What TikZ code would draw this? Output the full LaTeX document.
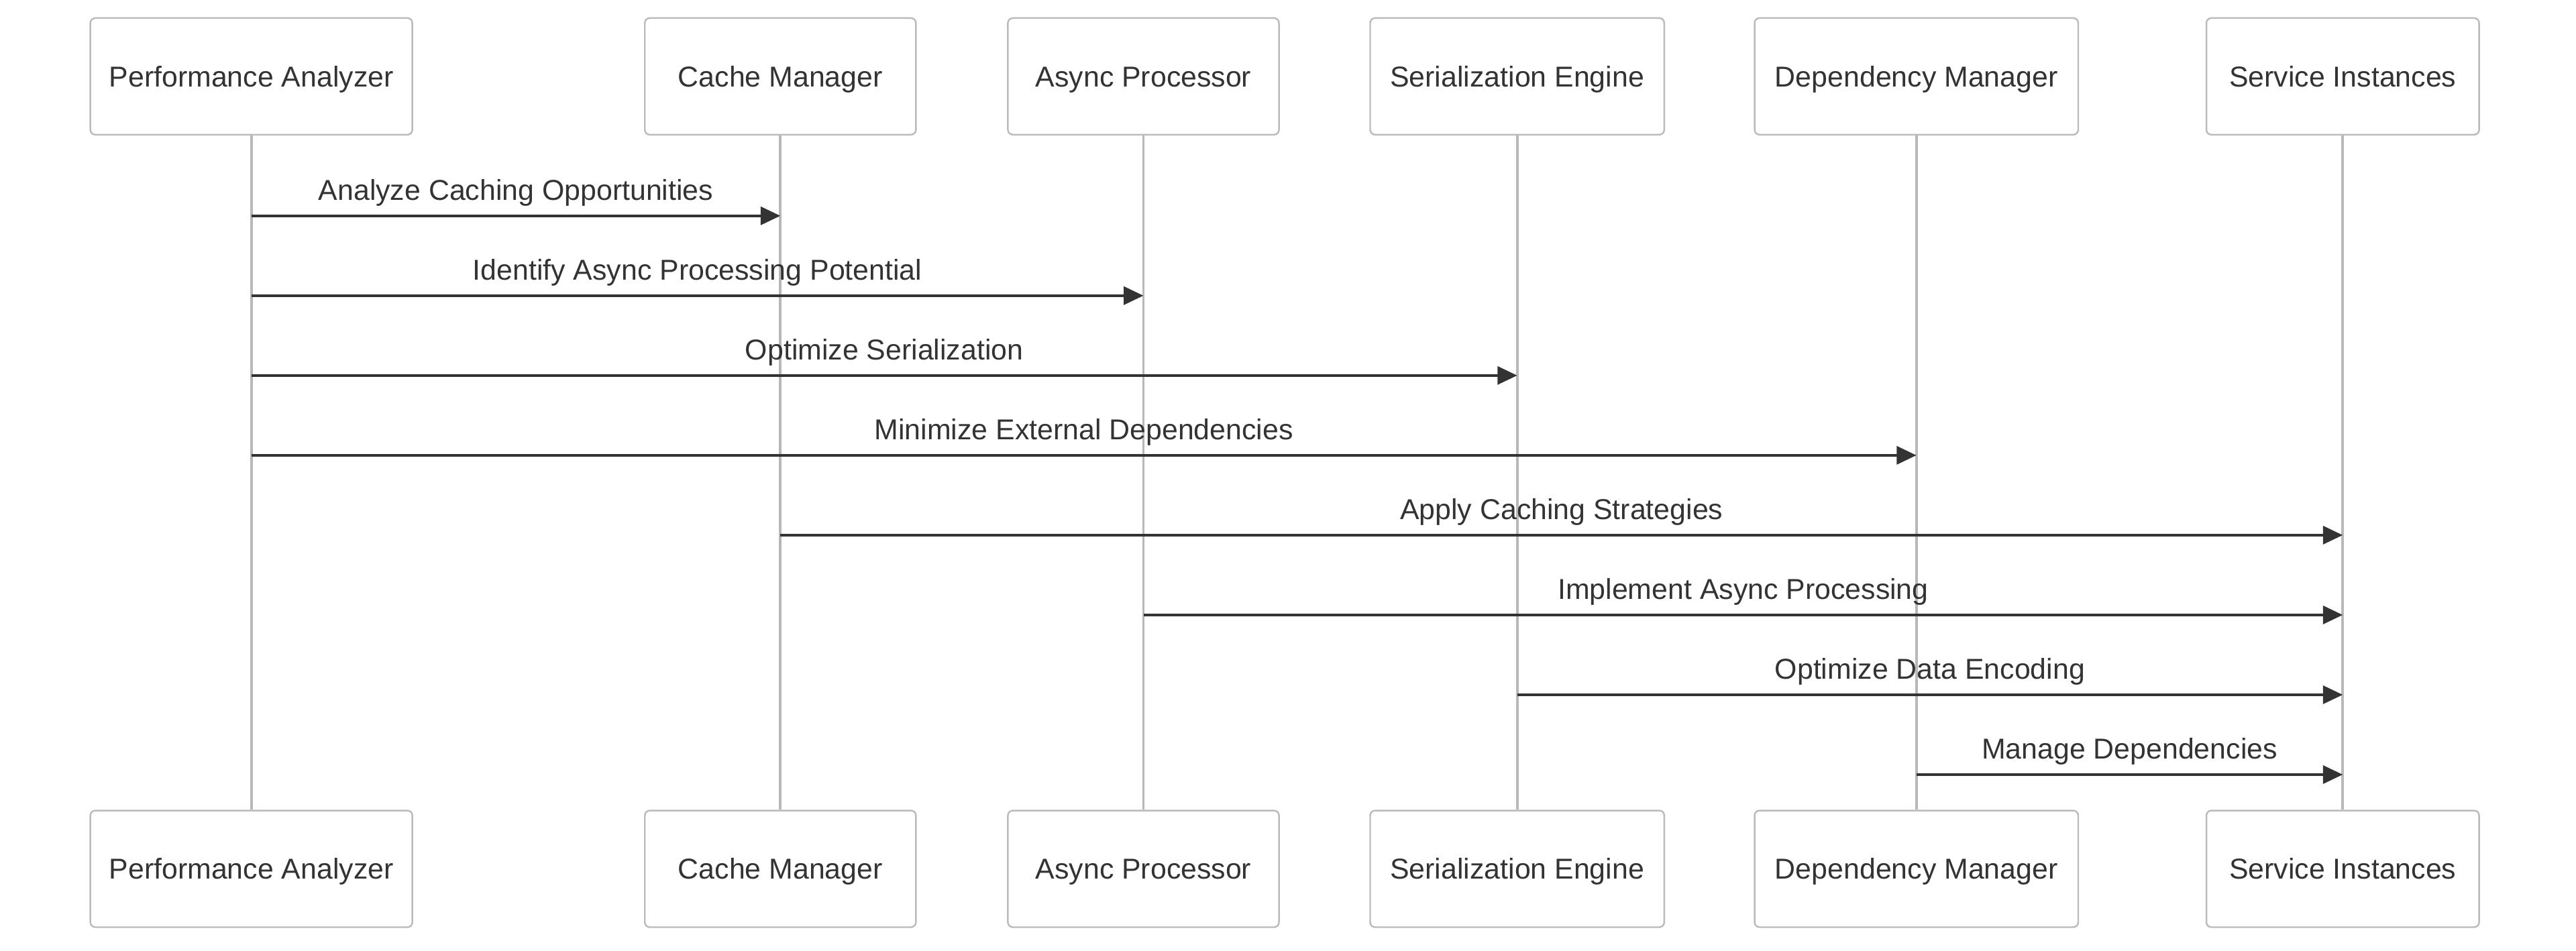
\documentclass[tikz,border=0pt]{standalone}
\usepackage{fontspec}
\setmainfont{Liberation Sans}
\usetikzlibrary{arrows.meta}
\definecolor{txtgray}{HTML}{333333}
\definecolor{boxgray}{HTML}{BBBBBB}
\definecolor{linegray}{HTML}{B8B8B8}

\begin{document}
\begin{tikzpicture}[x=1pt, y=-1pt,
        actor/.style={draw=boxgray, line width=1pt, fill=white, rounded corners=3pt,
            minimum height=71pt, text height=12.5pt, text depth=0pt, text=txtgray,
            font=\fontsize{17.5}{20}\selectfont},
        life/.style={draw=linegray, line width=1.6pt},
        msg/.style={draw=txtgray, line width=1.6pt, -{Triangle[length=12pt, width=11pt]}},
        lbl/.style={midway, anchor=base, yshift=9.5pt, inner sep=0pt, text=txtgray,
            font=\fontsize{17.5}{20}\selectfont}]
                \useasboundingbox (0,0) rectangle (1568,579);

                % top row
                \node[actor, minimum width=196pt] (pa) at (153, 46.5) {Performance Analyzer};
                \node[actor, minimum width=165pt] (cm) at (475, 46.5) {Cache Manager};
                \node[actor, minimum width=165pt] (ap) at (696, 46.5) {Async Processor};
                \node[actor, minimum width=179pt] (se) at (923.5, 46.5) {Serialization Engine};
                \node[actor, minimum width=197pt] (dm) at (1166.5, 46.5) {Dependency Manager};
                \node[actor, minimum width=166pt] (si) at (1426, 46.5) {Service Instances};

                % bottom row
                \node[actor, minimum width=196pt] (pab) at (153, 529) {Performance Analyzer};
                \node[actor, minimum width=165pt] (cmb) at (475, 529) {Cache Manager};
                \node[actor, minimum width=165pt] (apb) at (696, 529) {Async Processor};
                \node[actor, minimum width=179pt] (seb) at (923.5, 529) {Serialization Engine};
                \node[actor, minimum width=197pt] (dmb) at (1166.5, 529) {Dependency Manager};
                \node[actor, minimum width=166pt] (sib) at (1426, 529) {Service Instances};

                % lifelines
                \draw[life] (pa) -- (pab);
                \draw[life] (cm) -- (cmb);
                \draw[life] (ap) -- (apb);
                \draw[life] (se) -- (seb);
                \draw[life] (dm) -- (dmb);
                \draw[life] (si) -- (sib);

                % message levels
                \coordinate (y1) at (0, 131.4);
                \coordinate (y2) at (0, 180);
                \coordinate (y3) at (0, 228.6);
                \coordinate (y4) at (0, 277.2);
                \coordinate (y5) at (0, 325.8);
                \coordinate (y6) at (0, 374.4);
                \coordinate (y7) at (0, 423);
                \coordinate (y8) at (0, 471.6);

                \draw[msg] (pa |- y1) -- node[lbl] {Analyze Caching Opportunities} (cm |- y1);
                \draw[msg] (pa |- y2) -- node[lbl] {Identify Async Processing Potential} (ap |- y2);
                \draw[msg] (pa |- y3) -- node[lbl] {Optimize Serialization} (se |- y3);
                \draw[msg] (pa |- y4) -- node[lbl] {Minimize External Dependencies} (dm |- y4);
                \draw[msg] (cm |- y5) -- node[lbl] {Apply Caching Strategies} (si |- y5);
                \draw[msg] (ap |- y6) -- node[lbl] {Implement Async Processing} (si |- y6);
                \draw[msg] (se |- y7) -- node[lbl] {Optimize Data Encoding} (si |- y7);
                \draw[msg] (dm |- y8) -- node[lbl] {Manage Dependencies} (si |- y8);
            \end{tikzpicture}
\end{document}
